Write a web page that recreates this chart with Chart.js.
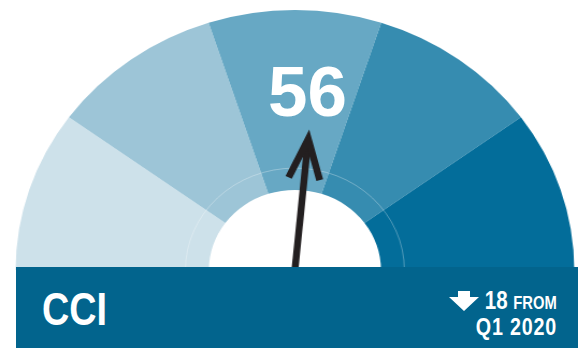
<!DOCTYPE html>
<html>
<head>
<meta charset="utf-8">
<script src="https://cdn.jsdelivr.net/npm/chart.js@4/dist/chart.umd.min.js"></script>
<style>
  body { margin: 0; background: #fff; }
  #wrap { position: relative; width: 578px; height: 348px; overflow: hidden; }
  #gauge { position: absolute; left: 0; top: 0; }
  .t { position: absolute; color: #fff; line-height: 1; white-space: nowrap; font-weight: bold; font-family: "Liberation Sans", sans-serif; }
  .narrow { transform: scaleX(0.82); }
  #bar { position: absolute; left: 16px; top: 267px; right: 0; bottom: 0; background: #02648d; }
</style>
</head>
<body>
<div id="wrap">
  <canvas id="gauge" width="538" height="348" style="width:578px;height:348px;"></canvas>
  <div id="score" class="t" style="font-size:71px; left:268px; top:56px;"></div>
  <div id="bar"></div>
  <div id="name" class="t narrow" style="font-size:46px; left:42px; top:286px; transform-origin:left top;"></div>
  <svg style="position:absolute; left:449px; top:291px;" width="31" height="21">
    <polygon points="9,0 21,0 21,6 30,6 15,20 0,6 9,6" fill="#fff"/>
  </svg>
  <div id="change" class="t narrow" style="font-size:25px; right:21px; top:288px; transform-origin:right top;"></div>
  <div id="since" class="t narrow" style="font-size:24px; right:21px; top:315px; letter-spacing:1px; transform-origin:right top;"></div>
</div>
<script>
// dial bands, light to dark
const bandLabels = ["0-20", "20-40", "40-60", "60-80", "80-100"];
const bandSizes = [20, 20, 20, 20, 20];
const bandColors = ["#cde1ea", "#9dc5d7", "#67a8c4", "#368cb0", "#036d9a"];

const indexName = "CCI";
const score = 56;
const needleReading = 53; // where the arrow sits on the 0-100 dial
const change = 18;
const sincePeriod = "Q1 2020";

document.getElementById("score").textContent = score;
document.getElementById("name").textContent = indexName;
document.getElementById("change").innerHTML = change + ' <span style="font-size:18px">FROM</span>';
document.getElementById("since").textContent = sincePeriod;

const needlePlugin = {
  id: "needle",
  afterDatasetsDraw(chart) {
    const arc = chart.getDatasetMeta(0).data[0];
    const ctx = chart.ctx;
    const cx = arc.x, cy = arc.y, R = arc.outerRadius;

    // faint inner ring
    ctx.save();
    ctx.beginPath();
    ctx.arc(cx, cy, R * 0.392, Math.PI, 2 * Math.PI);
    ctx.strokeStyle = "rgba(255,255,255,0.3)";
    ctx.lineWidth = 1;
    ctx.stroke();
    ctx.restore();

    // arrow
    const total = bandSizes.reduce((a, b) => a + b, 0);
    const a = Math.PI + (needleReading / total) * Math.PI;
    const L = R * 0.545;
    ctx.save();
    ctx.translate(cx, cy);
    ctx.rotate(a + Math.PI / 2);
    ctx.fillStyle = "#231f20";
    ctx.strokeStyle = "#231f20";
    ctx.fillRect(-3.2, -L + 12, 6.4, L + 10);
    ctx.lineWidth = 6.5;
    ctx.lineJoin = "miter";
    ctx.miterLimit = 10;
    ctx.beginPath();
    ctx.moveTo(-14.5, -L + 50);
    ctx.lineTo(0, -L + 10);
    ctx.lineTo(14.5, -L + 50);
    ctx.stroke();
    ctx.restore();
  }
};

new Chart(document.getElementById("gauge"), {
  type: "doughnut",
  data: {
    labels: bandLabels,
    datasets: [{
      data: bandSizes,
      backgroundColor: bandColors,
      borderWidth: 0
    }]
  },
  options: {
    responsive: false,
    animation: false,
    circumference: 180,
    rotation: -90,
    cutout: "30.8%",
    layout: { padding: { top: 10, bottom: 78, left: 11, right: 0 } },
    plugins: { legend: { display: false }, tooltip: { enabled: false } }
  },
  plugins: [needlePlugin]
});
</script>
</body>
</html>
